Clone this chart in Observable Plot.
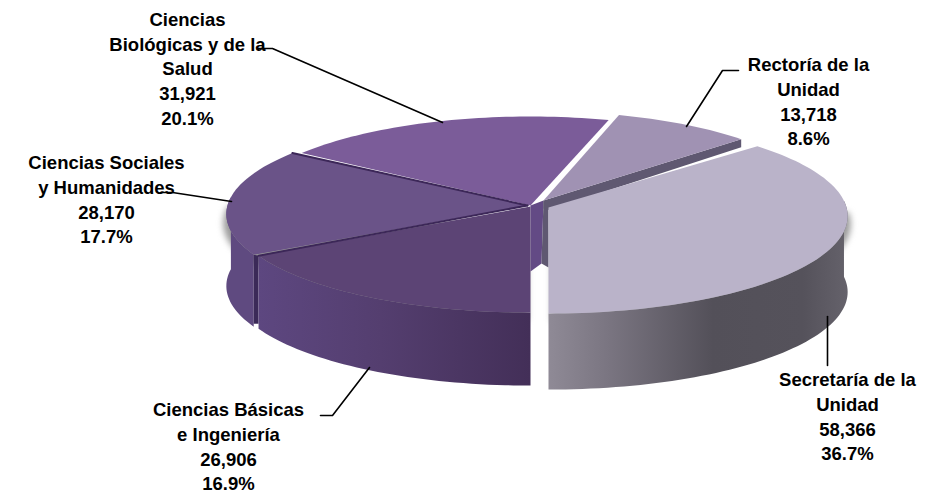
<!DOCTYPE html>
<html>
<head>
<meta charset="utf-8">
<script src="https://cdn.jsdelivr.net/npm/d3@7"></script>
<script src="https://cdn.jsdelivr.net/npm/@observablehq/plot@0.6"></script>
<style>html,body{margin:0;padding:0;background:#fff}svg{display:block}</style>
</head>
<body>
<div id="chart"></div>
<script>
// Data
const categories = ["Secretaría de la\nUnidad","Rectoría de la\nUnidad","Ciencias\nBiológicas y de la\nSalud","Ciencias Sociales\ny Humanidades","Ciencias Básicas\ne Ingeniería"];
const values = [58366,13718,31921,28170,26906];
const percents = ["36.7%","8.6%","20.1%","17.7%","16.9%"];
const topColors = ["#bab3c9","#a092b3","#7b5c99","#6a5388","#5c4475"];

// Layout of the exploded slices
const centers = [[548,207],[543,200],[530,205],[527,205],[530,206]];
const radii = [298,282,292,300,298];
const depths = [76,0,0,72,73];
const labelX = [847,808,187,106,228];
const labelY = [415,100,67,198,445];
const leaders = [
  [[827,316],[827,365]],
  [[686,126],[722,70],[738,70]],
  [[442,122],[272,48],[258,48]],
  [[231,201],[172,192],[160,192]],
  [[369,367],[332,415],[320,415]]
];
const RY = 96.8, K = 0.0877;

// Cumulative angles: from the bottom of the pie, counter-clockwise
const total = d3.sum(values);
let acc = 180;
const slices = values.map((v,i)=>{
  const a0 = acc, a1 = acc - v/total*360;
  acc = a1;
  return {i,a0,a1,c:centers[i],r:radii[i],d:depths[i]};
});
function pt(s,deg,dy=0){
  const t = deg*Math.PI/180, w = 1+K*Math.cos(t);
  return [s.c[0]+s.r*Math.sin(t)/w, s.c[1]-RY*Math.cos(t)/w+dy];
}
function arc(s,a0,a1,dy=0){
  const n = Math.max(2,Math.ceil(Math.abs(a1-a0)/1.5)), out=[];
  for(let k=0;k<=n;k++) out.push(pt(s,a0+(a1-a0)*k/n,dy));
  return out;
}
const poly = (pts,fill,extra={}) => Plot.line(pts,{x:d=>d[0],y:d=>d[1],fill,stroke:"none",curve:"linear",...extra});
const path = (pts,stroke,strokeWidth) => Plot.line(pts,{x:d=>d[0],y:d=>d[1],stroke,strokeWidth,curve:"linear"});

const [sec,rec,bio,soc,bas] = slices;
const marks = [];

// soft shadow under the pie
const shadowBlur = {imageFilter:"blur(3px)"};
marks.push(poly([...arc(soc,-85,-119,6),...arc(bas,-119,-180,5),[bas.c[0],bas.c[1]+20]],"#9a9a9a",{...shadowBlur,dx:-3,dy:3}));
marks.push(poly([...arc(sec,180,88,5),[sec.c[0],sec.c[1]+20]],"#9a9a9a",{...shadowBlur,dx:3,dy:3}));

// inner cut faces
marks.push(poly([bio.c,pt(rec,rec.a0*0+rec.a1),[rec.c[0],rec.c[1]+62],[bio.c[0],bio.c[1]+66]].slice(0,0).concat([bio.c,rec.c,[rec.c[0]-2,rec.c[1]+63],[bio.c[0],bio.c[1]+66]]),"#634a85"));
marks.push(poly([rec.c,sec.c,[sec.c[0],sec.c[1]+60],[rec.c[0]-2,rec.c[1]+63]],"#5f5871"));
marks.push(poly([rec.c,pt(rec,rec.a0),[pt(rec,rec.a0)[0],pt(rec,rec.a0)[1]+8],[rec.c[0]+3,rec.c[1]+10],[rec.c[0],rec.c[1]+8]],"#5f5871"));

// outer walls
const wall = (s,a0,a1,fill)=>poly([...arc(s,a0,a1),...arc(s,a1,a0,s.d)],fill);
marks.push(wall(soc,-85,soc.a1,"#5f4a80"));
marks.push(poly([pt(soc,soc.a1),pt(bas,bas.a0),pt(bas,bas.a0,bas.d-5),pt(soc,soc.a1,soc.d-3)],"#3b2a58"));
marks.push(wall(bas,bas.a0,bas.a1,"url(#gradBas)"));
marks.push(wall(sec,sec.a0,86,"url(#gradSec)"));

// top faces
for(const s of [sec,rec,bio,soc,bas]){
  marks.push(poly([s.c,...arc(s,s.a0,s.a1)],topColors[s.i]));
}
// dark seams between the purple slices
marks.push(path([soc.c,pt(soc,soc.a0)],"#3c2758",2));
marks.push(path([soc.c,pt(bas,bas.a0)],"#3c2758",2));

// leader lines
leaders.forEach(l=>marks.push(path(l,"#000",1.6)));

// labels
const fmt = d3.format(",");
const labels = categories.map((c,i)=>({text:`${c}\n${fmt(values[i])}\n${percents[i]}`,x:labelX[i],y:labelY[i]}));
marks.push(Plot.text(labels,{x:"x",y:"y",text:"text",fontFamily:"'Liberation Sans',Arial,sans-serif",fontWeight:"bold",fontSize:18.5,lineHeight:1.33,fill:"#000",textAnchor:"middle",lineAnchor:"middle"}));

const chart = Plot.plot({
  width:931,height:492,margin:0,
  x:{domain:[0,931],range:[0,931],axis:null},
  y:{domain:[0,492],range:[0,492],axis:null},
  marks
});
const defs = d3.select(chart).insert("defs",":first-child");
function grad(id,stops){
  const g = defs.append("linearGradient").attr("id",id).attr("x1",0).attr("x2",1).attr("y1",0).attr("y2",0);
  stops.forEach(([o,c])=>g.append("stop").attr("offset",o).attr("stop-color",c));
}
grad("gradBas",[[0,"#5d4780"],[0.45,"#543e6f"],[1,"#432f58"]]);
grad("gradSec",[[0,"#8f8a96"],[0.2,"#7a7581"],[0.55,"#535059"],[0.85,"#55525b"],[1,"#65626b"]]);
document.getElementById("chart").append(chart);
</script>
</body>
</html>
